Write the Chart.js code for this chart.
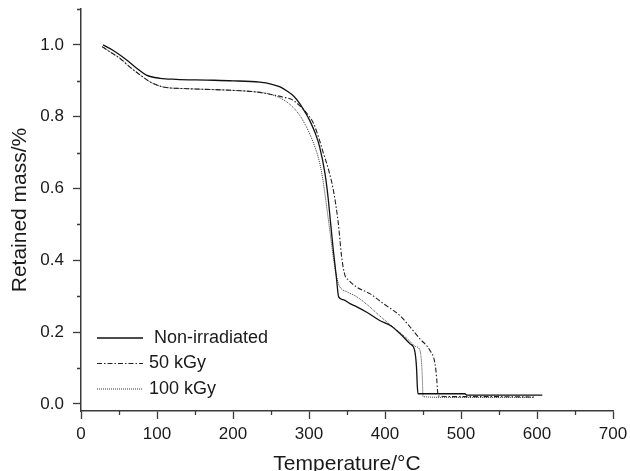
<!DOCTYPE html>
<html>
<head>
<meta charset="utf-8">
<script src="https://cdn.jsdelivr.net/npm/chart.js@4/dist/chart.umd.min.js"></script>
<style>
  html, body { margin: 0; padding: 0; background: #fff; }
</style>
</head>
<body>
<canvas id="tgaChart" width="630" height="471"></canvas>
<script>
/* ================= Data ================= */
const seriesLabels = ["Non-irradiated", "50 kGy", "100 kGy"];

const tempNon = [29, 42, 60, 75, 86, 104, 125, 165, 200, 235, 250, 262, 272, 280, 288, 295, 301, 308, 314, 321, 325, 328.5, 332, 336, 339, 345, 354, 363, 376, 393, 407, 420, 433, 439, 441.5, 442.5, 443.5, 470, 505, 508, 560, 607];
const massNon = [1.0, 0.985, 0.958, 0.932, 0.916, 0.907, 0.904, 0.902, 0.9, 0.896, 0.891, 0.883, 0.87, 0.857, 0.836, 0.812, 0.789, 0.755, 0.716, 0.642, 0.577, 0.502, 0.428, 0.353, 0.298, 0.29, 0.279, 0.27, 0.255, 0.232, 0.218, 0.195, 0.167, 0.149, 0.1, 0.05, 0.028, 0.028, 0.028, 0.024, 0.024, 0.024];

const temp50 = [28, 40, 51, 65, 78, 90, 100, 110, 140, 192, 230, 250, 265, 279, 288, 297, 306, 313, 319, 326, 332, 338.6, 343, 347, 352, 363, 380, 398, 420, 433, 446, 459, 465.8, 468, 469, 470, 500, 540, 597];
const mass50 = [0.995, 0.978, 0.963, 0.937, 0.916, 0.898, 0.888, 0.882, 0.878, 0.874, 0.869, 0.862, 0.855, 0.846, 0.83, 0.81, 0.781, 0.74, 0.698, 0.65, 0.596, 0.502, 0.409, 0.36, 0.345, 0.325, 0.307, 0.279, 0.245, 0.214, 0.181, 0.149, 0.112, 0.07, 0.04, 0.022, 0.02, 0.02, 0.019];

const temp100 = [28, 40, 51, 65, 78, 90, 100, 110, 140, 192, 230, 244, 258, 270, 280, 288, 295, 301, 307, 312, 316, 319, 325, 330, 334, 338, 340.8, 350, 363, 380, 393, 410, 430, 440, 446, 448.5, 449.5, 450, 480, 520, 595];
const mass100 = [0.995, 0.978, 0.963, 0.937, 0.916, 0.898, 0.888, 0.882, 0.878, 0.874, 0.869, 0.865, 0.856, 0.842, 0.824, 0.803, 0.778, 0.752, 0.72, 0.688, 0.652, 0.614, 0.521, 0.44, 0.38, 0.34, 0.325, 0.312, 0.298, 0.27, 0.245, 0.215, 0.18, 0.16, 0.149, 0.1, 0.05, 0.02, 0.018, 0.018, 0.018];

const xTickLabels = [0, 100, 200, 300, 400, 500, 600, 700];
const xMinorTicks = [50, 150, 250, 350, 450, 550, 650];
const yTickLabels = [0.0, 0.2, 0.4, 0.6, 0.8, 1.0];
const yMinorTicks = [0.1, 0.3, 0.5, 0.7, 0.9, 1.1];

/* ================= Helpers ================= */
const FONT = "'Liberation Sans', Arial, Helvetica, sans-serif";
const AXIS_COLOR = "#3a3a3a";

function toPoints(xs, ys) {
  return xs.map((x, i) => ({ x: x, y: ys[i] }));
}

// minor ticks (shorter, unlabeled)
const minorTicks = {
  id: "minorTicks",
  afterDraw(chart) {
    const { ctx, scales: { x, y } } = chart;
    ctx.save();
    ctx.strokeStyle = AXIS_COLOR;
    ctx.lineWidth = 1.3;
    ctx.beginPath();
    xMinorTicks.forEach((v) => {
      const px = Math.round(x.getPixelForValue(v)) + 0.5;
      ctx.moveTo(px, x.top);
      ctx.lineTo(px, x.top + 4);
    });
    yMinorTicks.forEach((v) => {
      const py = Math.round(y.getPixelForValue(v)) + 0.5;
      ctx.moveTo(y.right, py);
      ctx.lineTo(y.right - 4, py);
    });
    ctx.stroke();
    ctx.restore();
  },
};

// legend drawn inside the plot, lower left
const insideLegend = {
  id: "insideLegend",
  afterDatasetsDraw(chart) {
    const { ctx, chartArea } = chart;
    ctx.save();
    ctx.font = "18px " + FONT;
    ctx.textBaseline = "middle";
    ctx.fillStyle = "#1a1a1a";
    chart.data.datasets.forEach((ds, i) => {
      const rowY = chartArea.bottom - 73 + i * 25.5;
      ctx.strokeStyle = ds.borderColor;
      ctx.lineWidth = ds.borderWidth;
      ctx.setLineDash(ds.borderDash || []);
      ctx.beginPath();
      ctx.moveTo(chartArea.left + 16, rowY);
      ctx.lineTo(chartArea.left + 62, rowY);
      ctx.stroke();
      ctx.setLineDash([]);
      const textX = chartArea.left + (i === 0 ? 73 : 68);
      ctx.fillText(ds.label, textX, rowY);
    });
    ctx.restore();
  },
};

/* ================= Chart ================= */
const ctx = document.getElementById("tgaChart").getContext("2d");

new Chart(ctx, {
  type: "line",
  data: {
    datasets: [
      {
        label: seriesLabels[0],
        data: toPoints(tempNon, massNon),
        borderColor: "#111",
        borderWidth: 1.3,
      },
      {
        label: seriesLabels[1],
        data: toPoints(temp50, mass50),
        borderColor: "#222",
        borderWidth: 1.1,
        borderDash: [5, 2, 1.5, 2],
      },
      {
        label: seriesLabels[2],
        data: toPoints(temp100, mass100),
        borderColor: "#333",
        borderWidth: 1,
        borderDash: [1, 1],
      },
    ],
  },
  options: {
    responsive: false,
    animation: false,
    cubicInterpolationMode: "monotone",
    pointRadius: 0,
    layout: { padding: { top: 9, right: 17, left: 0, bottom: 0 } },
    plugins: {
      legend: { display: false },
      tooltip: { enabled: false },
    },
    scales: {
      x: {
        type: "linear",
        min: 0,
        max: 700,
        afterBuildTicks: (scale) => {
          scale.ticks = xTickLabels.map((v) => ({ value: v }));
        },
        afterFit: (scale) => {
          scale.height = 60;
          scale.paddingLeft = 0;
          scale.paddingRight = 0;
        },
        ticks: {
          padding: 5,
          color: "#1a1a1a",
          font: { family: FONT, size: 17 },
          maxRotation: 0,
          callback: (v) => String(v),
        },
        grid: {
          drawOnChartArea: false,
          tickLength: 8,
          tickWidth: 1.3,
          tickColor: AXIS_COLOR,
        },
        border: { display: true, color: AXIS_COLOR, width: 1.5 },
        title: {
          display: true,
          text: "Temperature/°C",
          color: "#1a1a1a",
          font: { family: FONT, size: 21 },
          padding: { top: 0, bottom: -6 },
        },
      },
      y: {
        type: "linear",
        min: -0.02,
        max: 1.1,
        afterBuildTicks: (scale) => {
          scale.ticks = yTickLabels.map((v) => ({ value: v }));
        },
        afterFit: (scale) => {
          scale.width = 81;
          scale.paddingTop = 0;
          scale.paddingBottom = 0;
        },
        ticks: {
          padding: 9,
          color: "#1a1a1a",
          font: { family: FONT, size: 17 },
          callback: (v) => Number(v).toFixed(1),
        },
        grid: {
          drawOnChartArea: false,
          tickLength: 8,
          tickWidth: 1.3,
          tickColor: AXIS_COLOR,
        },
        border: { display: true, color: AXIS_COLOR, width: 1.5 },
        title: {
          display: true,
          text: "Retained mass/%",
          color: "#1a1a1a",
          font: { family: FONT, size: 21 },
          padding: { top: 8, bottom: 0 },
        },
      },
    },
  },
  plugins: [minorTicks, insideLegend],
});
</script>
</body>
</html>
